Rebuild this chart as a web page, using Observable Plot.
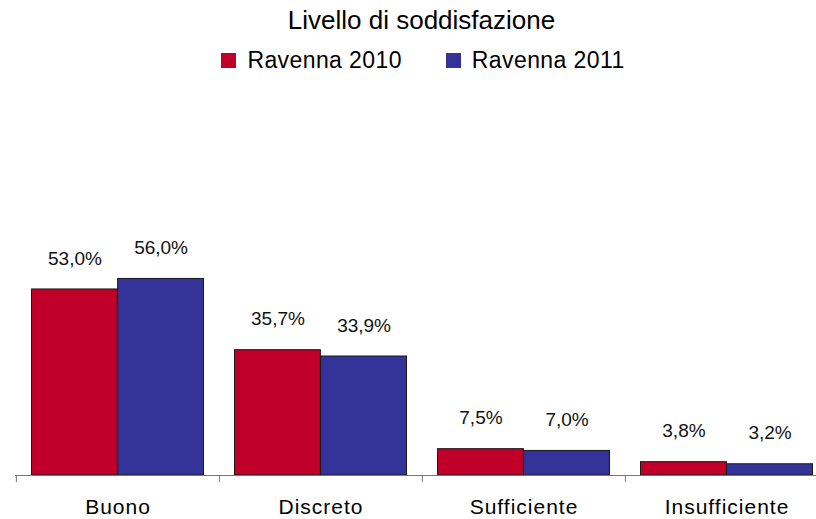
<!DOCTYPE html>
<html>
<head>
<meta charset="utf-8">
<script src="https://cdn.jsdelivr.net/npm/d3@7"></script>
<script src="https://cdn.jsdelivr.net/npm/@observablehq/plot@0.6"></script>
<style>
  html, body { margin: 0; padding: 0; background: #fff; }
  #wrap { position: relative; width: 816px; height: 519px; overflow: hidden; font-family: "Liberation Sans", Arial, sans-serif; color: #000; }
  #title { position: absolute; top: 7px; left: 27px; width: 789px; text-align: center; font-size: 26px; line-height: 26px; white-space: nowrap; }
  #legend { position: absolute; top: 49px; left: 30px; width: 786px; display: flex; justify-content: center; align-items: center; font-size: 23px; line-height: 23px; white-space: nowrap; letter-spacing: 0.4px; }
  .item { display: flex; align-items: center; }
  .item + .item { margin-left: 44px; }
  .sw { width: 15px; height: 15px; margin-right: 11px; margin-top: -1px; }
  #chart { position: absolute; top: 85px; left: 0; }
  #chart svg [aria-label="x-axis tick label"] text { letter-spacing: 1px; }
</style>
</head>
<body>
<div id="wrap">
  <div id="title"></div>
  <div id="legend"></div>
  <div id="chart"></div>
</div>
<script>
const chartTitle = "Livello di soddisfazione";
const categories = ["Buono", "Discreto", "Sufficiente", "Insufficiente"];
const series = ["Ravenna 2010", "Ravenna 2011"];
const values2010 = [53.0, 35.7, 7.5, 3.8];
const values2011 = [56.0, 33.9, 7.0, 3.2];
const seriesColors = ["#C00028", "#333399"];

document.getElementById("title").textContent = chartTitle;
const legend = document.getElementById("legend");
series.forEach((s, i) => {
  const item = document.createElement("div");
  item.className = "item";
  const sw = document.createElement("div");
  sw.className = "sw";
  sw.style.background = seriesColors[i];
  const label = document.createElement("span");
  label.textContent = s;
  item.appendChild(sw);
  item.appendChild(label);
  legend.appendChild(item);
});

const rows2010 = categories.map((c, i) => ({category: c, series: series[0], value: values2010[i]}));
const rows2011 = categories.map((c, i) => ({category: c, series: series[1], value: values2011[i]}));
const fmt = v => v.toFixed(1).replace(".", ",") + "%";

const W = 816, H = 434;
const xRange = [15, 828];
const bw = (xRange[1] - xRange[0]) / categories.length;
const outer = 15.5;
const half = bw / 2;
const labelShift = (half - outer) / 2 + outer - half; // offset to centre of left bar

const chart = Plot.plot({
  width: W,
  height: H,
  marginTop: 39,
  marginBottom: 44,
  marginLeft: 15,
  marginRight: 0,
  style: {fontFamily: "'Liberation Sans', Arial, sans-serif", background: "transparent", overflow: "visible"},
  x: {domain: categories, range: xRange, padding: 0},
  y: {domain: [0, 100], axis: null},
  color: {domain: series, range: seriesColors},
  marks: [
    Plot.barY(rows2010, {x: "category", y: "value", fill: "series", stroke: "#1a1a1a", strokeWidth: 1, insetLeft: outer, insetRight: half}),
    Plot.barY(rows2011, {x: "category", y: "value", fill: "series", stroke: "#1a1a1a", strokeWidth: 1, insetLeft: half, insetRight: outer}),
    Plot.text(rows2010, {x: "category", y: "value", text: d => fmt(d.value), dx: labelShift, dy: -31, lineAnchor: "middle", fontSize: 19, fill: "#111"}),
    Plot.text(rows2011, {x: "category", y: "value", text: d => fmt(d.value), dx: -labelShift, dy: -31, lineAnchor: "middle", fontSize: 19, fill: "#111"}),
    Plot.ruleY([0], {stroke: "#777", strokeWidth: 1}),
    Plot.ruleX(categories, {x: d => d, dx: -half, y1: 0, y2: -2, stroke: "#777", strokeWidth: 1}),
    Plot.axisX({tickSize: 0, tickPadding: 24, fontSize: 21, label: null})
  ]
});
document.getElementById("chart").appendChild(chart);
</script>
</body>
</html>
